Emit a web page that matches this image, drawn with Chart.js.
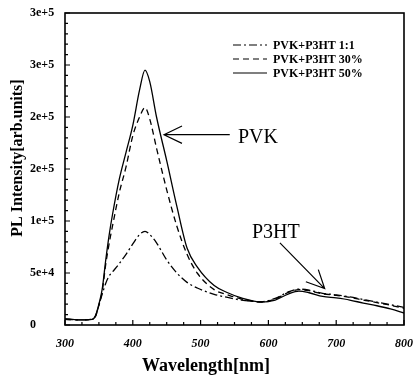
<!DOCTYPE html>
<html>
<head>
<meta charset="utf-8">
<script src="https://cdn.jsdelivr.net/npm/chart.js@4"></script>
<style>
  html, body { margin: 0; padding: 0; background: #fff; }
  #wrap { width: 414px; height: 384px; }
</style>
</head>
<body>
<div id="wrap"><canvas id="chart" width="414" height="384"></canvas></div>
<script>
// wavelength grid (nm) shared by all three spectra
const wavelengths = [300, 320, 340, 345, 350, 355, 360, 365, 370, 380, 390, 400, 410, 418, 425, 435, 450, 465, 480, 495,
  520, 540, 560, 590, 610, 630, 645, 660, 680, 700, 720, 740, 760, 780, 800];

// PVK+P3HT 1:1 (dash-dot)
const pl11 = [5500, 5000, 5500, 8500, 19000, 30000, 40000, 47000, 51000, 59000, 68000, 78000, 87000, 90000, 87000, 79000, 62500, 50000, 41000, 35600,
  29500, 26500, 24000, 22400, 25500, 32000, 34500, 33500, 30500, 29000, 27000, 24500, 22000, 19500, 17000];
// PVK+P3HT 30% (dashed)
const pl30 = [5500, 5000, 5500, 8500, 19000, 33000, 58000, 78000, 95000, 127000, 152000, 182000, 200000, 209000, 198000, 170000, 130000, 95000, 68000, 50000,
  34000, 29000, 25000, 22000, 25000, 31500, 34000, 33000, 30000, 28500, 26500, 24000, 21500, 19000, 16000];
// PVK+P3HT 50% (solid)
const pl50 = [6000, 5000, 5500, 9000, 20000, 35000, 62000, 86000, 106000, 140000, 166000, 192000, 226000, 245000, 234000, 200000, 158000, 114000, 74000, 56000,
  38000, 31000, 26000, 22000, 24000, 30000, 32500, 31000, 27500, 26000, 24000, 21000, 18500, 15500, 11500];

const seriesNames = ["PVK+P3HT 1:1", "PVK+P3HT 30%", "PVK+P3HT 50%"];
const xTicks = [300, 400, 500, 600, 700, 800];
const yTicks = [0, 50000, 100000, 150000, 200000, 250000, 300000];

const SERIF = "'Liberation Serif', 'DejaVu Serif', serif";
const dashes = [[8, 3, 2, 3], [6, 4], []];

const toPoints = (ys) => wavelengths.map((w, i) => ({ x: w, y: ys[i] }));

// frame, inward ticks, axis titles, legend and the two arrow labels
const decor = {
  id: "decor",
  afterDraw(chart) {
    const ctx = chart.ctx;
    const a = chart.chartArea;
    const xs = chart.scales.x;
    const ys = chart.scales.y;
    ctx.save();
    ctx.strokeStyle = "#000";
    ctx.fillStyle = "#000";

    ctx.lineWidth = 1.6;
    ctx.strokeRect(a.left, a.top, a.right - a.left, a.bottom - a.top);

    ctx.lineWidth = 1.2;
    ctx.beginPath();
    for (let v = 300; v <= 800; v += 25) {
      const px = xs.getPixelForValue(v);
      const len = v % 100 === 0 ? 5 : 3;
      ctx.moveTo(px, a.bottom);
      ctx.lineTo(px, a.bottom - len);
    }
    for (let v = 0; v <= 300000; v += 10000) {
      const py = ys.getPixelForValue(v);
      const len = v % 50000 === 0 ? 5 : 3;
      ctx.moveTo(a.left, py);
      ctx.lineTo(a.left + len, py);
    }
    ctx.stroke();

    // axis titles
    ctx.font = "bold 18px " + SERIF;
    ctx.textAlign = "center";
    ctx.textBaseline = "middle";
    ctx.fillText("Wavelength[nm]", 206, 366);
    ctx.font = "bold 16px " + SERIF;
    ctx.save();
    ctx.translate(18, 158);
    ctx.rotate(-Math.PI / 2);
    ctx.fillText("PL Intensity[arb.units]", 0, 0);
    ctx.restore();

    // legend
    ctx.font = "bold 12px " + SERIF;
    ctx.textAlign = "left";
    const rowsY = [45, 59, 73];
    chart.data.datasets.forEach((ds, i) => {
      ctx.lineWidth = 1.2;
      ctx.setLineDash(ds.borderDash);
      ctx.beginPath();
      ctx.moveTo(233, rowsY[i]);
      ctx.lineTo(267, rowsY[i]);
      ctx.stroke();
      ctx.setLineDash([]);
      ctx.fillText(ds.label, 273, rowsY[i] + 1);
    });

    // arrow labels
    const arrow = (x0, y0, x1, y1) => {
      const ang = Math.atan2(y1 - y0, x1 - x0);
      ctx.lineWidth = 1.2;
      ctx.beginPath();
      ctx.moveTo(x0, y0);
      ctx.lineTo(x1, y1);
      ctx.moveTo(x1 - 20 * Math.cos(ang - 0.45), y1 - 20 * Math.sin(ang - 0.45));
      ctx.lineTo(x1, y1);
      ctx.lineTo(x1 - 20 * Math.cos(ang + 0.45), y1 - 20 * Math.sin(ang + 0.45));
      ctx.stroke();
    };
    const pvkTip = [xs.getPixelForValue(446), ys.getPixelForValue(183000)];
    arrow(xs.getPixelForValue(543), pvkTip[1], pvkTip[0], pvkTip[1]);
    const p3Tip = [xs.getPixelForValue(683), ys.getPixelForValue(35000)];
    arrow(xs.getPixelForValue(617), ys.getPixelForValue(79000), p3Tip[0], p3Tip[1]);

    ctx.font = "20px " + SERIF;
    ctx.textBaseline = "alphabetic";
    ctx.fillText("PVK", 238, 143);
    ctx.fillText("P3HT", 252, 238);
    ctx.restore();
  }
};

new Chart(document.getElementById("chart"), {
  type: "line",
  data: {
    datasets: [pl11, pl30, pl50].map((ys, i) => ({
      label: seriesNames[i],
      data: toPoints(ys),
      borderColor: "#000",
      borderWidth: 1.3,
      borderDash: dashes[i],
      pointRadius: 0,
      fill: false,
      cubicInterpolationMode: "monotone",
    })),
  },
  options: {
    responsive: false,
    animation: false,
    layout: { padding: { left: 30, right: 10, top: 13, bottom: 0 } },
    plugins: { legend: { display: false }, tooltip: { enabled: false } },
    scales: {
      x: {
        type: "linear",
        min: 300,
        max: 800,
        afterFit: (s) => { s.height = 59; s.paddingLeft = 0; s.paddingRight = 0; },
        afterBuildTicks: (s) => { s.ticks = xTicks.map((v) => ({ value: v })); },
        grid: { display: false, drawTicks: false },
        border: { display: false },
        ticks: {
          color: "#000",
          padding: 12,
          maxRotation: 0,
          autoSkip: false,
          font: { family: SERIF, size: 12, weight: "bold", style: "italic" },
        },
      },
      y: {
        min: 0,
        max: 300000,
        afterFit: (s) => { s.width = 35; s.paddingTop = 0; s.paddingBottom = 0; },
        afterBuildTicks: (s) => { s.ticks = yTicks.map((v) => ({ value: v })); },
        grid: { display: false, drawTicks: false },
        border: { display: false },
        ticks: {
          color: "#000",
          crossAlign: "far",
          autoSkip: false,
          font: { family: SERIF, size: 12, weight: "bold" },
          callback: (v) => (v === 0 ? "0" : Number(v).toExponential(0)),
        },
      },
    },
  },
  plugins: [decor],
});
</script>
</body>
</html>
